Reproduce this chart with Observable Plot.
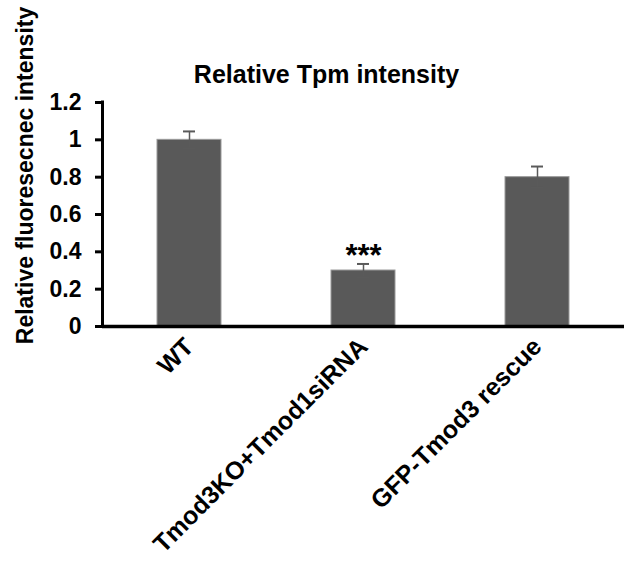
<!DOCTYPE html>
<html>
<head>
<meta charset="utf-8">
<script src="https://cdn.jsdelivr.net/npm/d3@7"></script>
<script src="https://cdn.jsdelivr.net/npm/@observablehq/plot@0.6"></script>
<style>
  html, body { margin: 0; padding: 0; background: #fff; }
</style>
</head>
<body>
<div id="chart"></div>
<script>
const categories = ["WT", "Tmod3KO+Tmod1siRNA", "GFP-Tmod3 rescue"];
const values = [1.0, 0.30, 0.80];
const errors = [0.045, 0.035, 0.057];
const significance = ["", "***", ""];
const yTicks = [0, 0.2, 0.4, 0.6, 0.8, 1.0, 1.2];
const yTickLabels = ["0", "0.2", "0.4", "0.6", "0.8", "1", "1.2"];
const chartTitle = "Relative Tpm intensity";
const yLabel = "Relative fluoresecnec intensity";

const data = categories.map((c, i) => ({
  name: c, value: values[i], err: errors[i], sig: significance[i]
}));
const tickData = yTicks.map((v, i) => ({ v, label: yTickLabels[i] }));

const font = "Liberation Sans, Arial, Helvetica, sans-serif";

const yAxisLine = (index, scales, values, dims) => {
  const g = d3.create("svg:line")
    .attr("x1", dims.marginLeft + 0.5)
    .attr("x2", dims.marginLeft + 0.5)
    .attr("y1", scales.y(yTicks[yTicks.length - 1]) - 1.5)
    .attr("y2", scales.y(0) + 1.5)
    .attr("stroke", "black")
    .attr("stroke-width", 3);
  return g.node();
};

const chart = Plot.plot({
  width: 628,
  height: 563,
  marginLeft: 102,
  marginRight: 4,
  marginTop: 102,
  marginBottom: 237,
  style: { fontFamily: font, background: "#fff", color: "black" },
  x: { domain: categories, paddingInner: 0.632, paddingOuter: 0.316, label: null },
  y: { domain: [0, 1.2], label: null },
  marks: [
    Plot.barY(data, { x: "name", y: "value", fill: "#595959", stroke: "#9a9a9a", strokeWidth: 1 }),
    Plot.ruleX(data, { x: "name", y1: d => d.value - d.err, y2: d => d.value + d.err, stroke: "#5a5a5a", strokeWidth: 1.5 }),
    Plot.tickY(data, { x: "name", y: d => d.value + d.err, stroke: "#5a5a5a", strokeWidth: 2, inset: 26 }),
    Plot.tickY(data, { x: "name", y: d => d.value - d.err, stroke: "#5a5a5a", strokeWidth: 2, inset: 26 }),
    Plot.text(data.filter(d => d.sig), { x: "name", y: d => d.value + d.err, text: "sig", dy: -8, fontSize: 31, fontWeight: "bold", fill: "black" }),
    Plot.ruleY([0], { stroke: "black", strokeWidth: 3.5 }),
    yAxisLine,
    Plot.axisY({ ticks: yTicks, tickFormat: () => "", tickSize: 7, strokeWidth: 3, label: null }),
    Plot.text(tickData, { y: "v", text: "label", frameAnchor: "left", textAnchor: "end", dx: -21, fontSize: 23, fontWeight: "bold", fill: "black" }),
    Plot.axisX({ tickSize: 0, tickPadding: 16, tickRotate: -45, fontSize: 25, fontWeight: "bold", fill: "black", label: null }),
    Plot.text([chartTitle], { frameAnchor: "top", dx: -37, dy: -37, fontSize: 25, fontWeight: "bold", fill: "black" }),
    Plot.text([yLabel], { frameAnchor: "left", textAnchor: "middle", rotate: -90, dx: -77, dy: -39, fontSize: 23, fontWeight: "bold", fill: "black" })
  ]
});

document.getElementById("chart").appendChild(chart);
</script>
</body>
</html>
